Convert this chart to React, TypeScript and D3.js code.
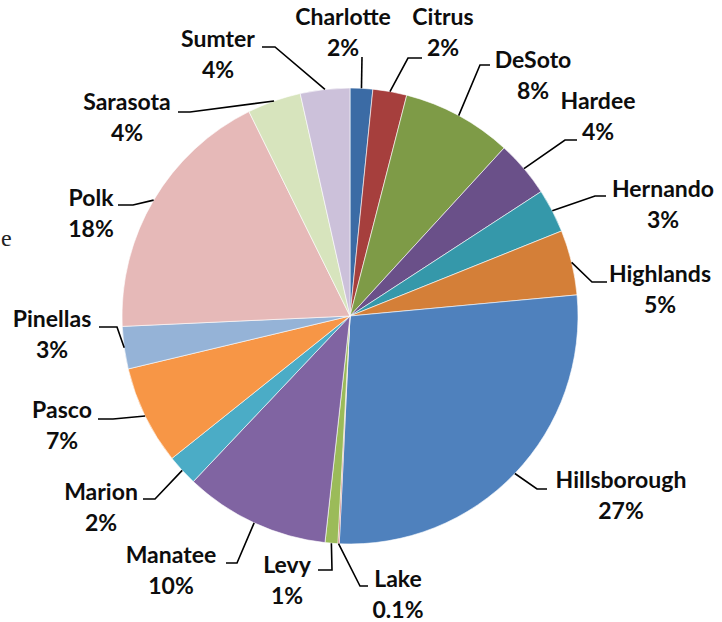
import { useEffect } from "react";
import * as d3 from "d3";

// county shares, clockwise from 12 o'clock
const counties = [
  "Charlotte", "Citrus", "DeSoto", "Hardee", "Hernando", "Highlands",
  "Hillsborough", "Lake", "Levy", "Manatee", "Marion", "Pasco",
  "Pinellas", "Polk", "Sarasota", "Sumter",
];
const shares = [1.6, 2.4, 7.8, 4.0, 3.1, 4.6, 27.2, 0.1, 0.9, 10.3, 2.2, 7.0, 3.0, 18.4, 3.8, 3.5];
const pctLabels = ["2%", "2%", "8%", "4%", "3%", "5%", "27%", "0.1%", "1%", "10%", "2%", "7%", "3%", "18%", "4%", "4%"];
const colors = [
  "#3b6ba5", "#a63f3d", "#7e9b47", "#6a5089", "#3598aa", "#d47f38",
  "#4f81bd", "#c0504d", "#9bbb59", "#8064a2", "#4bacc6", "#f79646",
  "#95b3d7", "#e6b9b8", "#d7e4bd", "#ccc1da",
];

// hand placed label layout (like Excel's best fit): text centre x, name baseline y,
// leader elbow and the x where the leader stops next to the text
const labelLayout: { tx: number; ty: number; elbow: [number, number]; endX: number }[] = [
  { tx: 343, ty: 25, elbow: [362, 57], endX: 362 },
  { tx: 443, ty: 25, elbow: [408, 58], endX: 422 },
  { tx: 533, ty: 68, elbow: [480, 65], endX: 490 },
  { tx: 598, ty: 109, elbow: [565, 140], endX: 577 },
  { tx: 663, ty: 197, elbow: [595, 196], endX: 606 },
  { tx: 660, ty: 282, elbow: [592, 282], endX: 607 },
  { tx: 621, ty: 488, elbow: [537, 489], endX: 547 },
  { tx: 398, ty: 587, elbow: [360, 586], endX: 368 },
  { tx: 287, ty: 573, elbow: [332, 570], endX: 318 },
  { tx: 171, ty: 563, elbow: [237, 563], endX: 226 },
  { tx: 101, ty: 500, elbow: [155, 499], endX: 143 },
  { tx: 62, ty: 418, elbow: [113, 419], endX: 98 },
  { tx: 52, ty: 327, elbow: [117, 327], endX: 99 },
  { tx: 91, ty: 206, elbow: [133, 205], endX: 118 },
  { tx: 127, ty: 110, elbow: [190, 112], endX: 178 },
  { tx: 218, ty: 47, elbow: [275, 47], endX: 262 },
];

const width = 722;
const height = 622;
const cx = 350;
const cy = 316;
const radius = 228;
const lineGap = 31;

const App = () => {
  useEffect(() => {
    document.body.style.margin = "0";
  }, []);

  const pie = d3.pie<number>().sort(null).value(d => d).startAngle(0).endAngle(2 * Math.PI);
  const arcs = pie(shares);
  const arc = d3.arc<d3.PieArcDatum<number>>().innerRadius(0).outerRadius(radius);
  const edge = d3.arc<d3.PieArcDatum<number>>().innerRadius(radius).outerRadius(radius);

  return (
    <svg width={width} height={height} style={{ display: "block", background: "#fff" }}>
      {/* stray letter left over from the page the chart was clipped from */}
      <text x={1} y={246} fontFamily="Liberation Serif" fontSize={24} fill="#222">e</text>
      <g transform={`translate(${cx},${cy})`}>
        {arcs.map((a, i) => (
          <path key={counties[i]} d={arc(a) || ""} fill={colors[i]} stroke="#fff" strokeWidth={0.6} />
        ))}
      </g>
      <g fill="none" stroke="#000" strokeWidth={1.6}>
        {arcs.map((a, i) => {
          const [px, py] = edge.centroid(a);
          const l = labelLayout[i];
          const pts: [number, number][] = [[cx + px, cy + py], l.elbow, [l.endX, l.elbow[1]]];
          return <path key={counties[i]} d={d3.line()(pts) || ""} />;
        })}
      </g>
      <g fontFamily="Lato, 'Open Sans', sans-serif" fontWeight="bold" fontSize={23} fill="#0d0d0d" textAnchor="middle">
        {counties.map((c, i) => {
          const l = labelLayout[i];
          return (
            <g key={c}>
              <text x={l.tx} y={l.ty}>{c}</text>
              <text x={l.tx} y={l.ty + lineGap}>{pctLabels[i]}</text>
            </g>
          );
        })}
      </g>
    </svg>
  );
};

export default App;
